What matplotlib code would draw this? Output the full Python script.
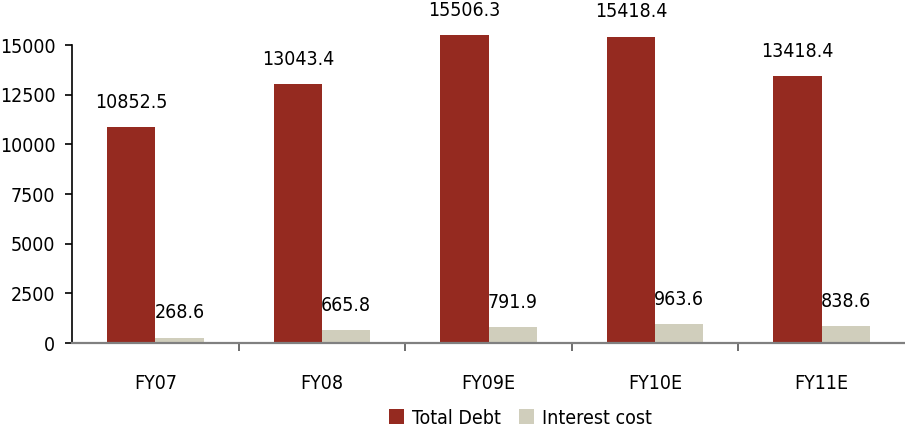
import matplotlib
matplotlib.use("Agg")
import matplotlib.pyplot as plt
import numpy as np

plt.rcParams["font.family"] = ["DejaVu Sans"]
plt.rcParams["font.stretch"] = "condensed"

categories = ["FY07", "FY08", "FY09E", "FY10E", "FY11E"]
total_debt = [10852.5, 13043.4, 15506.3, 15418.4, 13418.4]
interest_cost = [268.6, 665.8, 791.9, 963.6, 838.6]

RED = "#952A20"
BEIGE = "#D0CEBC"
FS = 14

fig = plt.figure(figsize=(9.05, 4.30), dpi=100)
ax = fig.add_axes([0.0796, 0.2023, 0.9204, 0.6930])

x = np.arange(len(categories))
width = 0.29
b1 = ax.bar(x - width / 2, total_debt, width, color=RED, label="Total Debt", clip_on=False)
b2 = ax.bar(x + width / 2, interest_cost, width, color=BEIGE, label="Interest cost", clip_on=False)

# value labels above each bar
for bars, vals in ((b1, total_debt), (b2, interest_cost)):
    for bar, val in zip(bars, vals):
        ax.annotate(f"{val:.1f}", (bar.get_x() + bar.get_width() / 2, bar.get_height()),
                    xytext=(0, 11), textcoords="offset points", ha="center", va="bottom",
                    fontsize=FS, annotation_clip=False)

ax.set_xlim(-0.5, len(categories) - 0.5)
ax.set_ylim(0, 15000)
ax.set_yticks(np.arange(0, 15001, 2500))
ax.tick_params(axis="y", labelsize=FS, length=5, width=1.2, pad=7)

ax.set_xticks(x)
ax.set_xticklabels(categories, fontsize=FS)
ax.tick_params(axis="x", length=0, pad=22)
ax.set_xticks(np.arange(0.5, len(categories) - 0.5, 1), minor=True)
ax.tick_params(axis="x", which="minor", length=6, width=1.2, color="#555555")

for side in ("top", "right"):
    ax.spines[side].set_visible(False)
ax.spines["left"].set_linewidth(1.2)
ax.spines["bottom"].set_color("#808080")
ax.spines["bottom"].set_linewidth(1.6)

fig.legend(loc="lower center", bbox_to_anchor=(0.575, -0.035), ncol=2, frameon=False,
           fontsize=FS, handlelength=0.8, handleheight=0.8, handletextpad=0.4,
           columnspacing=0.9)

fig.savefig("out.png", dpi=100)
